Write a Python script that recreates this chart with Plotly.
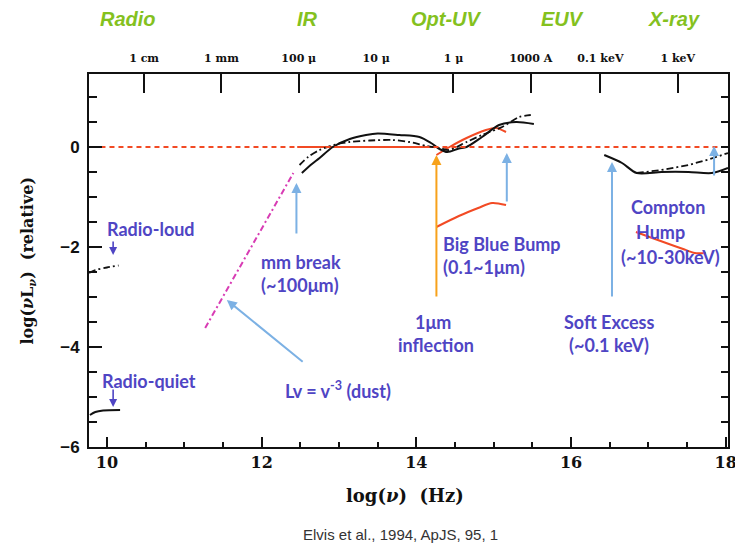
import plotly.graph_objects as go

# ---- spectral energy distribution data (log nu [Hz], log nuL_nu relative) ----
rq_radio_x = [9.78, 9.85, 9.95, 10.17]
rq_radio_y = [-5.36, -5.30, -5.27, -5.26]
rl_radio_x = [9.77, 9.85, 10.0, 10.15]
rl_radio_y = [-2.52, -2.46, -2.41, -2.37]

rq_ir_x = [12.52, 12.65, 12.75, 12.92, 13.14, 13.35, 13.50, 13.78, 14.04, 14.19, 14.30, 14.40,
           14.55, 14.65, 14.85, 15.07, 15.29, 15.52]
rq_ir_y = [-0.52, -0.34, -0.22, 0.00, 0.16, 0.24, 0.27, 0.24, 0.20, 0.08, -0.04, -0.10,
           -0.03, 0.00, 0.20, 0.44, 0.50, 0.46]
rl_ir_x = [12.49, 12.60, 12.75, 12.95, 13.14, 13.40, 13.69, 13.91, 14.13, 14.30, 14.42,
           14.65, 14.85, 15.11, 15.33, 15.48]
rl_ir_y = [-0.36, -0.20, -0.06, 0.05, 0.10, 0.13, 0.14, 0.10, 0.02, -0.02, -0.06,
           0.10, 0.24, 0.40, 0.60, 0.64]

rq_xray_x = [16.43, 16.66, 16.85, 17.17, 17.52, 17.82, 18.03]
rq_xray_y = [-0.16, -0.32, -0.52, -0.50, -0.50, -0.52, -0.42]
rl_xray_x = [16.85, 17.17, 17.52, 17.80, 18.03]
rl_xray_y = [-0.52, -0.46, -0.36, -0.24, -0.12]

ref_x = [9.80, 17.90]
ref_y = [0.0, 0.0]
flat_x = [12.46, 14.26]
flat_y = [0.0, 0.0]
bbb_top_x = [14.26, 14.43, 14.65, 14.90, 15.03, 15.16]
bbb_top_y = [-0.16, 0.00, 0.18, 0.34, 0.38, 0.30]
bbb_low_x = [14.26, 14.55, 14.80, 14.98, 15.16]
bbb_low_y = [-1.60, -1.38, -1.22, -1.12, -1.16]
compton_x = [16.84, 17.05, 17.23, 17.45, 17.60, 17.74]
compton_y = [-1.70, -1.82, -1.92, -2.04, -2.12, -2.12]
dust_x = [11.27, 12.41]
dust_y = [-3.62, -0.52]

# frequency ticks along the bottom
bottom_tick_vals = [10, 12, 14, 16, 18]

# wavelength / energy scale along the top
top_tick_vals = [10.48, 11.48, 12.48, 13.48, 14.48, 15.48, 16.38, 17.38]
top_tick_text = ["1 cm", "1 mm", "100 \u03bc", "10 \u03bc", "1 \u03bc", "1000 A", "0.1 keV", "1 keV"]

band_names = ["Radio", "IR", "Opt-UV", "EUV", "X-ray"]
band_x = [10.27, 12.59, 14.39, 15.89, 17.33]

XR = [9.768, 18.03]
YR = [-6.0, 1.46]

BLACK = "#111111"
RED = "#f24a24"
MAGENTA = "#d83cb4"
LIGHTBLUE = "#7cb1e4"
ORANGE = "#f7a21b"
PURPLE = "#4f45c4"
GREEN = "#84c11e"
DASHDOT = "7px,3px,2px,3px"

fig = go.Figure()


def line(x, y, color, width=2.0, dash="solid", shape="spline", **kw):
    fig.add_trace(go.Scatter(x=x, y=y, mode="lines", hoverinfo="skip", showlegend=False,
                             line=dict(color=color, width=width, dash=dash, shape=shape,
                                       smoothing=0.8), **kw))


line(ref_x, ref_y, RED, 1.8, "5px,4px", "linear", xaxis="x2", yaxis="y2")
line(flat_x, flat_y, RED, 2.2, shape="linear")
line(bbb_top_x, bbb_top_y, RED, 2.0)
line(bbb_low_x, bbb_low_y, RED, 2.0)
line(compton_x, compton_y, RED, 2.0)
line(dust_x, dust_y, MAGENTA, 2.0, "6px,3px,2px,3px", "linear")
line(rq_radio_x, rq_radio_y, BLACK, 2.0)
line(rl_radio_x, rl_radio_y, BLACK, 1.8, DASHDOT)
line(rq_ir_x, rq_ir_y, BLACK, 2.0)
line(rl_ir_x, rl_ir_y, BLACK, 1.8, DASHDOT)
line(rq_xray_x, rq_xray_y, BLACK, 2.0)
line(rl_xray_x, rl_xray_y, BLACK, 1.8, DASHDOT, "linear")

annotations = []


def arrow(x_head, y_head, x_tail, y_tail, color, width=2.0):
    annotations.append(dict(x=x_head, y=y_head, ax=x_tail, ay=y_tail, xref="x", yref="y",
                            axref="x", ayref="y", showarrow=True, arrowhead=2, arrowsize=1.0,
                            arrowwidth=width, arrowcolor=color, text=""))


arrow(10.08, -2.16, 10.08, -1.86, PURPLE, 1.6)
arrow(10.08, -5.20, 10.08, -4.82, PURPLE, 1.6)
arrow(12.45, -0.72, 12.45, -1.76, LIGHTBLUE)
arrow(11.55, -3.06, 12.55, -4.32, LIGHTBLUE)
arrow(14.26, -0.16, 14.26, -3.02, ORANGE)
arrow(15.17, -0.12, 15.17, -1.12, LIGHTBLUE)
arrow(16.53, -0.30, 16.53, -3.02, LIGHTBLUE)
arrow(17.85, 0.02, 17.85, -0.60, LIGHTBLUE)

LABEL_FONT = dict(family="Lato", size=18, color=PURPLE, weight="bold")


def label(x, y, text, anchor="left"):
    annotations.append(dict(x=x, y=y, xref="x", yref="y", text=text, showarrow=False,
                            xanchor=anchor, yanchor="middle", font=LABEL_FONT))


label(9.97, -1.64, "Radio-loud")
label(9.91, -4.68, "Radio-quiet")
label(11.97, -2.30, "mm break")
label(11.97, -2.76, "(~100\u03bcm)")
label(12.27, -4.86, "Lv = v<sup>-3</sup> (dust)")
label(14.32, -1.94, "Big Blue Bump")
label(14.32, -2.40, "(0.1~1\u03bcm)")
label(14.21, -3.50, "1\u03bcm", "center")
label(14.26, -3.96, "inflection", "center")
label(16.49, -3.50, "Soft Excess", "center")
label(16.49, -3.96, "(~0.1 keV)", "center")
label(17.26, -1.20, "Compton", "center")
label(17.16, -1.70, "Hump", "center")
label(17.29, -2.20, "(~10-30keV)", "center")

for name, bx in zip(band_names, band_x):
    annotations.append(dict(x=bx, y=1.147, xref="x", yref="paper", text=name, showarrow=False,
                            xanchor="center", yanchor="middle",
                            font=dict(family="Liberation Sans", size=20, color=GREEN,
                                      weight="bold", style="italic")))

SERIF = "DejaVu Serif"
annotations.append(dict(x=0.495, y=-0.164, xref="paper", yref="paper",
                        text="log(<i>\u03bd</i>)  (Hz)", showarrow=False,
                        font=dict(family=SERIF, size=18, color=BLACK, weight="bold")))
annotations.append(dict(x=-0.115, y=0.50, xref="paper", yref="paper", textangle=-90,
                        text="log(<i>\u03bd</i>L<sub><i>\u03bd</i></sub>)  (relative)",
                        showarrow=False,
                        font=dict(family=SERIF, size=16, color=BLACK, weight="bold")))
annotations.append(dict(x=0.487, y=-0.263, xref="paper", yref="paper",
                        text="Elvis et al., 1994, ApJS, 95, 1", showarrow=False,
                        font=dict(family="Liberation Sans", size=15, color="#333333")))

fig.update_layout(
    width=735, height=559,
    margin=dict(l=89, r=7, t=74, b=112),
    paper_bgcolor="white", plot_bgcolor="white",
    showlegend=False,
    annotations=annotations,
    xaxis=dict(range=XR, automargin=False, showgrid=False, zeroline=False, showline=True,
               linewidth=2, linecolor=BLACK, ticks="inside", ticklen=10, tickwidth=2,
               tickcolor=BLACK, tickmode="array", tickvals=bottom_tick_vals,
               ticktext=[str(v) for v in bottom_tick_vals], ticklabeloverflow="allow",
               minor=dict(dtick=0.5, tick0=10, ticks="inside", ticklen=5, tickwidth=1.5,
                          tickcolor=BLACK, showgrid=False),
               tickfont=dict(family=SERIF, size=16, color=BLACK, weight="bold")),
    xaxis2=dict(range=XR, automargin=False, overlaying="x", side="top", showgrid=False,
                zeroline=False, showline=True, linewidth=2, linecolor=BLACK, ticks="inside",
                ticklen=19, tickwidth=2, tickcolor=BLACK, tickmode="array",
                tickvals=top_tick_vals, ticktext=top_tick_text, ticklabelstandoff=6,
                tickfont=dict(family=SERIF, size=11, color=BLACK, weight="bold")),
    yaxis=dict(range=YR, automargin=False, showgrid=False, zeroline=False, showline=True,
               linewidth=2, linecolor=BLACK, ticks="inside", ticklen=13, tickwidth=2,
               tickcolor=BLACK, tick0=0, dtick=2,
               minor=dict(dtick=0.5, ticks="inside", ticklen=8, tickwidth=1.5,
                          tickcolor=BLACK, showgrid=False),
               tickfont=dict(family="Liberation Sans", size=17, color=BLACK, weight="bold"),
               ticklabelstandoff=4),
    yaxis2=dict(range=YR, automargin=False, overlaying="y", side="right", showgrid=False,
                zeroline=False, showline=True, linewidth=2, linecolor=BLACK, ticks="inside",
                ticklen=7, tickwidth=1.5, tickcolor=BLACK, tick0=0, dtick=0.5,
                showticklabels=False),
)

fig.write_html("out.html")
